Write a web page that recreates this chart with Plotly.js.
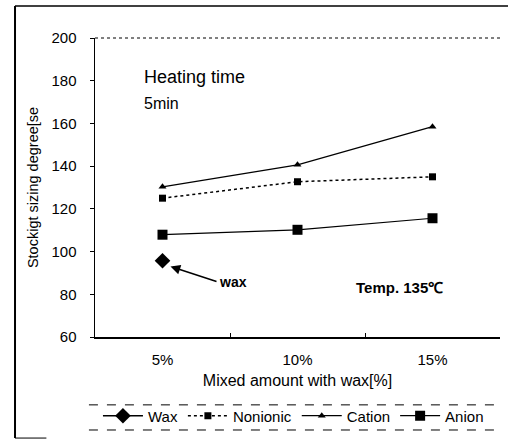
<!DOCTYPE html>
<html>
<head>
<meta charset="utf-8">
<script src="https://cdn.plot.ly/plotly-3.0.1.min.js"></script>
<style>html,body{margin:0;padding:0;background:#fff;}#chart{width:508px;height:440px;}</style>
</head>
<body>
<div id="chart"></div>
<script>
const categories = ["5%", "10%", "15%"];
const waxValues = [95.7];
const nonionicValues = [125, 132.7, 135];
const cationValues = [130.3, 140.6, 158.5];
const anionValues = [107.9, 110.2, 115.6];
const yTicks = [60, 80, 100, 120, 140, 160, 180, 200];

const F = "Liberation Sans, Arial, sans-serif";

const traces = [
  {name: "Wax", x: categories.slice(0, 1), y: waxValues, mode: "lines+markers",
   line: {color: "#000", width: 1.5}, marker: {symbol: "diamond", size: 12, color: "#000"}},
  {name: "Nonionic", x: categories, y: nonionicValues, mode: "lines+markers",
   line: {color: "#000", width: 1.5, dash: "dot"}, marker: {symbol: "square", size: 7, color: "#000"}},
  {name: "Cation", x: categories, y: cationValues, mode: "lines+markers",
   line: {color: "#000", width: 1.2}, marker: {symbol: "triangle-up", size: 7, color: "#000"}},
  {name: "Anion", x: categories, y: anionValues, mode: "lines+markers",
   line: {color: "#000", width: 1.2}, marker: {symbol: "square", size: 10, color: "#000"}}
];

const layout = {
  width: 508, height: 440,
  margin: {l: 95, r: 8, t: 38, b: 103},
  paper_bgcolor: "#fff", plot_bgcolor: "#fff",
  showlegend: true,
  font: {family: F, color: "#000", size: 14},
  xaxis: {
    type: "category", range: [-0.5, 2.5],
    showline: true, linecolor: "#000", linewidth: 1.5,
    showgrid: false, zeroline: false,
    ticks: "inside", ticklen: 4, tickson: "boundaries", tickcolor: "#000",
    tickfont: {family: F, size: 15}, ticklabelstandoff: 8,
    title: {text: "Mixed amount with wax[%]", font: {family: F, size: 16}, standoff: 8}
  },
  yaxis: {
    range: [60, 200], tickvals: yTicks,
    showline: true, linecolor: "#000", linewidth: 1.5,
    showgrid: false, zeroline: false,
    ticks: "outside", ticklen: 4, tickcolor: "#000",
    tickfont: {family: F, size: 15}, ticklabelstandoff: 10,
    title: {text: "Stockigt sizing degree[se", font: {family: F, size: 14.5}, standoff: 9}
  },
  legend: {
    orientation: "h", x: 0.49, xanchor: "center", y: -0.264, yanchor: "middle",
    font: {family: F, size: 15}, bgcolor: "rgba(0,0,0,0)", itemwidth: 40
  },
  shapes: [
    {type: "line", xref: "paper", yref: "paper", x0: 0, x1: 1, y0: 1, y1: 1,
     line: {color: "#000", width: 1, dash: "dot"}},
    {type: "line", xref: "paper", yref: "paper", x0: -0.015, x1: 1, y0: -0.227, y1: -0.227,
     line: {color: "#000", width: 1, dash: "dash"}},
    {type: "line", xref: "paper", yref: "paper", x0: -0.015, x1: 1, y0: -0.311, y1: -0.311,
     line: {color: "#000", width: 1, dash: "dash"}},
    {type: "line", xref: "paper", yref: "paper", x0: -0.1975, x1: -0.1975, y0: 1.107, y1: -0.338,
     line: {color: "#000", width: 2}},
    {type: "line", xref: "paper", yref: "paper", x0: -0.1975, x1: 1.02, y0: 1.107, y1: 1.107,
     line: {color: "#000", width: 1.5}},
    {type: "line", xref: "paper", yref: "paper", x0: -0.1975, x1: -0.12, y0: -0.338, y1: -0.338,
     line: {color: "#000", width: 1}}
  ],
  annotations: [
    {xref: "paper", yref: "paper", x: 0.115, y: 0.87, xanchor: "left", yanchor: "middle",
     text: "Heating time", showarrow: false, font: {family: F, size: 18}},
    {xref: "paper", yref: "paper", x: 0.115, y: 0.782, xanchor: "left", yanchor: "middle",
     text: "5min", showarrow: false, font: {family: F, size: 16}},
    {xref: "paper", yref: "paper", x: 0.64, y: 0.164, xanchor: "left", yanchor: "middle",
     text: "<b>Temp. 135℃</b>", showarrow: false, font: {family: F, size: 15}},
    {x: "5%", y: 93, ax: 46, ay: 15, text: "<b>wax</b>", showarrow: true,
     arrowhead: 2, arrowsize: 1.3, arrowwidth: 1.5, arrowcolor: "#000",
     xshift: 8, xanchor: "left", font: {family: F, size: 14}}
  ]
};

Plotly.newPlot("chart", traces, layout, {displayModeBar: false, staticPlot: true});
</script>
</body>
</html>
